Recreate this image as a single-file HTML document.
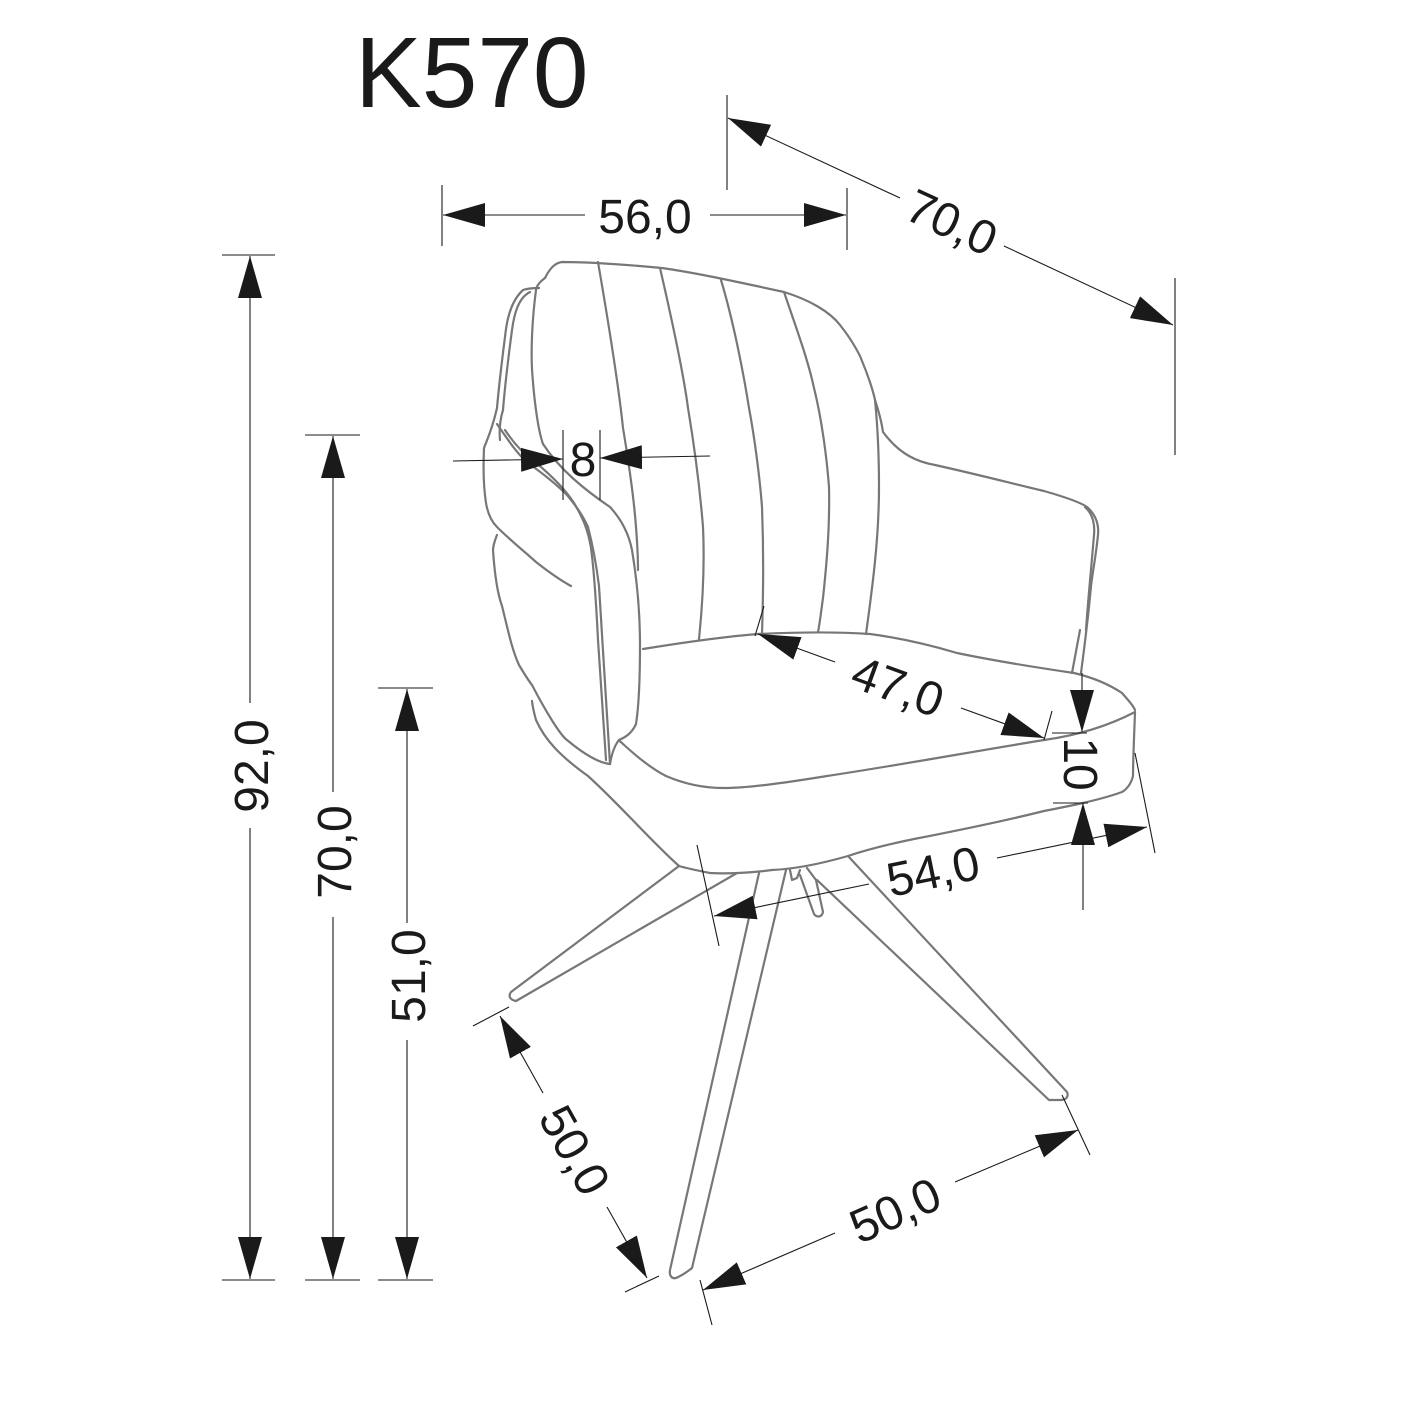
<!DOCTYPE html>
<html><head><meta charset="utf-8"><style>
html,body{margin:0;padding:0;background:#fff;}
svg{display:block;}
text{font-family:"Liberation Sans",Arial,sans-serif;fill:#1a1a1a;}
</style></head><body>
<svg width="1415" height="1415" viewBox="0 0 1415 1415" xmlns="http://www.w3.org/2000/svg">
<defs>
<marker id="a" markerUnits="userSpaceOnUse" markerWidth="42" markerHeight="24" refX="42" refY="12" orient="auto">
<path d="M0,0 L42,12 L0,24 z" fill="#1a1a1a"/>
</marker>
</defs>
<rect width="1415" height="1415" fill="#fff"/>
<text x="355" y="107" font-size="100">K570</text>

<g fill="none" stroke="#777" stroke-width="2.2" stroke-linejoin="round" stroke-linecap="round">
<path d="M545,278 C550,268 555,263 562,262 C600,262 640,266 662,268 C690,272 720,278 784,292 C810,300 830,312 840,325 C852,340 860,355 862,361 C870,380 874,395 875,400 C880,415 882,425 883,432 C900,455 918,462 935,465 C980,475 1010,483 1044,491 C1065,497 1080,502 1087,507 C1096,515 1099,525 1098,535 C1096,555 1093,570 1091,586 C1088,620 1084,650 1081,673"/>
<path d="M1085,507 C1093,514 1095,525 1094,535 C1092,560 1088,600 1086,630"/>
<path d="M1072,673 L1080,630"/>
<path d="M545,278 C538,283 536,288 536,290 C532,320 531,350 532,369 C534,400 538,430 543,444"/>
<path d="M539,288 C532,288 526,289 523,290 C512,300 508,315 506,329 C502,360 499,385 497,408 C492,430 487,440 484,448 C483,470 484,490 486,503 C488,515 492,522 497,527 C510,540 525,552 536,562 C550,573 560,580 571,586"/>
<path d="M530,292 C518,298 514,315 512,330 C508,360 505,385 503,410 C500,420 499,430 500,440"/>
<path d="M497,535 C493,545 493,550 493,550 C495,580 498,595 502,606 C508,630 512,650 519,665 C525,675 528,680 532,685 C545,710 560,735 567,740 C585,755 600,763 610,764"/>
<path d="M532,701 C533,710 535,716 536,720 C545,740 560,756 588,776 C620,805 650,840 679,866"/>
<path d="M497,424 C508,440 518,455 528,463 C545,475 557,485 567,495 C578,508 584,518 588,527 C594,550 597,570 599,586 C603,650 607,710 610,764"/>
<path d="M505,430 C515,445 525,455 535,462 C552,476 565,489 574,503 C583,518 588,530 591,548 C594,570 596,600 598,640 C601,690 604,730 606,760"/>
<path d="M543,444 C560,470 585,490 610,507 C622,520 629,535 632,550 C637,580 640,615 640,645 C640,680 639,705 636,724 C632,733 626,737 619,740 C615,745 612,752 610,764"/>
<path d="M598,262 C608,320 618,380 623,428 C630,470 634,500 636,527 C637,540 638,555 638,570"/>
<path d="M660,268 C672,320 683,370 688,408 C695,450 700,490 703,527 C705,570 702,610 699,639"/>
<path d="M721,280 C733,320 743,370 749,408 C755,440 760,480 762,507 C764,560 763,600 762,634"/>
<path d="M784,292 C797,330 808,360 814,388 C822,420 827,460 829,487 C830,530 826,570 823,598 C821,612 820,622 818,632"/>
<path d="M875,400 C878,430 879,460 879,487 C879,540 872,590 866,634"/>
<path d="M643,649 C680,643 720,637 758,634 C800,632 840,632 870,634 C900,638 930,645 957,653 C1000,662 1040,668 1074,673 C1095,678 1110,685 1122,693 C1128,700 1133,705 1135,710"/>
<path d="M1135,712 C1110,725 1080,735 1044,740 C970,752 900,765 827,776 C790,782 750,788 723,788 C700,788 680,782 666,776 C650,768 635,755 623,744 C620,741 618,740 619,740"/>
<path d="M1135,712 C1134,740 1133,760 1133,776 C1131,784 1127,789 1122,792 C1100,800 1070,806 1044,811 C1000,822 950,832 914,839 C880,846 860,852 848,856 C820,864 795,869 772,870 C750,873 725,874 710,873 C695,870 685,868 679,866"/>
<path d="M679,866 L511,992 C508,996 510,1000 516,1001 L737,873"/>
<path d="M759,873 L670,1270 C669,1276 672,1279 676,1278 C683,1275 687,1272 692,1268 L786,870"/>
<path d="M848,856 L1067,1092 C1069,1097 1066,1100 1060,1100 L1049,1100 L817,880"/>
<path d="M790,870 L792,880 L797,878 L800,870"/>
<path d="M800,875 L814,914 C817,918 822,917 823,912 L816,880 L807,868"/>
</g>

<g stroke="#1a1a1a" stroke-width="1.1" fill="none">
<line x1="222" y1="255" x2="275" y2="255"/><line x1="222" y1="1280" x2="275" y2="1280"/>
<line x1="305" y1="435" x2="360" y2="435"/><line x1="305" y1="1280" x2="360" y2="1280"/>
<line x1="378" y1="688" x2="433" y2="688"/><line x1="378" y1="1280" x2="433" y2="1280"/>
<line x1="442" y1="185" x2="442" y2="246"/><line x1="847" y1="188" x2="847" y2="250"/>
<line x1="727" y1="95" x2="727" y2="190"/><line x1="1175" y1="278" x2="1175" y2="455"/>
<line x1="563" y1="430" x2="563" y2="500"/><line x1="600" y1="430" x2="600" y2="500"/>
<line x1="764" y1="606" x2="755" y2="636"/><line x1="1052" y1="711" x2="1044" y2="740"/>
<line x1="1052" y1="733" x2="1087" y2="733"/><line x1="1053" y1="803" x2="1088" y2="803"/>
<line x1="697" y1="845" x2="719" y2="946"/><line x1="1135" y1="753" x2="1155" y2="853"/>
<line x1="473" y1="1026" x2="509" y2="1007"/><line x1="625" y1="1292" x2="659" y2="1276"/>
<line x1="700" y1="1280" x2="712" y2="1325"/><line x1="1062" y1="1095" x2="1090" y2="1155"/>
<line x1="250" y1="703" x2="250" y2="256" marker-end="url(#a)"/>
<line x1="250" y1="828" x2="250" y2="1279" marker-end="url(#a)"/>
<line x1="333" y1="792" x2="333" y2="436" marker-end="url(#a)"/>
<line x1="333" y1="917" x2="333" y2="1279" marker-end="url(#a)"/>
<line x1="407" y1="923" x2="407" y2="689" marker-end="url(#a)"/>
<line x1="407" y1="1040" x2="407" y2="1279" marker-end="url(#a)"/>
<line x1="585" y1="215" x2="443" y2="215" marker-end="url(#a)"/>
<line x1="710" y1="215" x2="846" y2="215" marker-end="url(#a)"/>
<line x1="900" y1="198" x2="728" y2="118" marker-end="url(#a)"/>
<line x1="1004" y1="246" x2="1173" y2="325" marker-end="url(#a)"/>
<line x1="453" y1="461" x2="563" y2="459" marker-end="url(#a)"/>
<line x1="710" y1="456" x2="600" y2="458" marker-end="url(#a)"/>
<line x1="835" y1="662" x2="758" y2="634" marker-end="url(#a)"/>
<line x1="961" y1="708" x2="1044" y2="738" marker-end="url(#a)"/>
<line x1="1082" y1="673" x2="1082" y2="732" marker-end="url(#a)"/>
<line x1="1083" y1="910" x2="1083" y2="803" marker-end="url(#a)"/>
<line x1="869" y1="884" x2="714" y2="916" marker-end="url(#a)"/>
<line x1="997" y1="858" x2="1147" y2="827" marker-end="url(#a)"/>
<line x1="543" y1="1093" x2="500" y2="1016" marker-end="url(#a)"/>
<line x1="607" y1="1207" x2="647" y2="1278" marker-end="url(#a)"/>
<line x1="835" y1="1233" x2="703" y2="1290" marker-end="url(#a)"/>
<line x1="955" y1="1182" x2="1078" y2="1130" marker-end="url(#a)"/>
</g>

<g font-size="48" text-anchor="middle">
<text transform="translate(250,766) rotate(-90)" y="18">92,0</text>
<text transform="translate(333,852) rotate(-90)" y="18">70,0</text>
<text transform="translate(407,976) rotate(-90)" y="18">51,0</text>
<text x="645" y="233">56,0</text>
<text transform="translate(952,222) rotate(24.9)" y="17">70,0</text>
<text x="583" y="476">8</text>
<text transform="translate(898,686) rotate(20)" y="17">47,0</text>
<text transform="translate(1082,764) rotate(90)" y="18">10</text>
<text transform="translate(933,871) rotate(-11.6)" y="17">54,0</text>
<text transform="translate(575,1150) rotate(60.7)" y="17">50,0</text>
<text transform="translate(895,1210) rotate(-23.9)" y="17">50,0</text>
</g>
</svg>
</body></html>
